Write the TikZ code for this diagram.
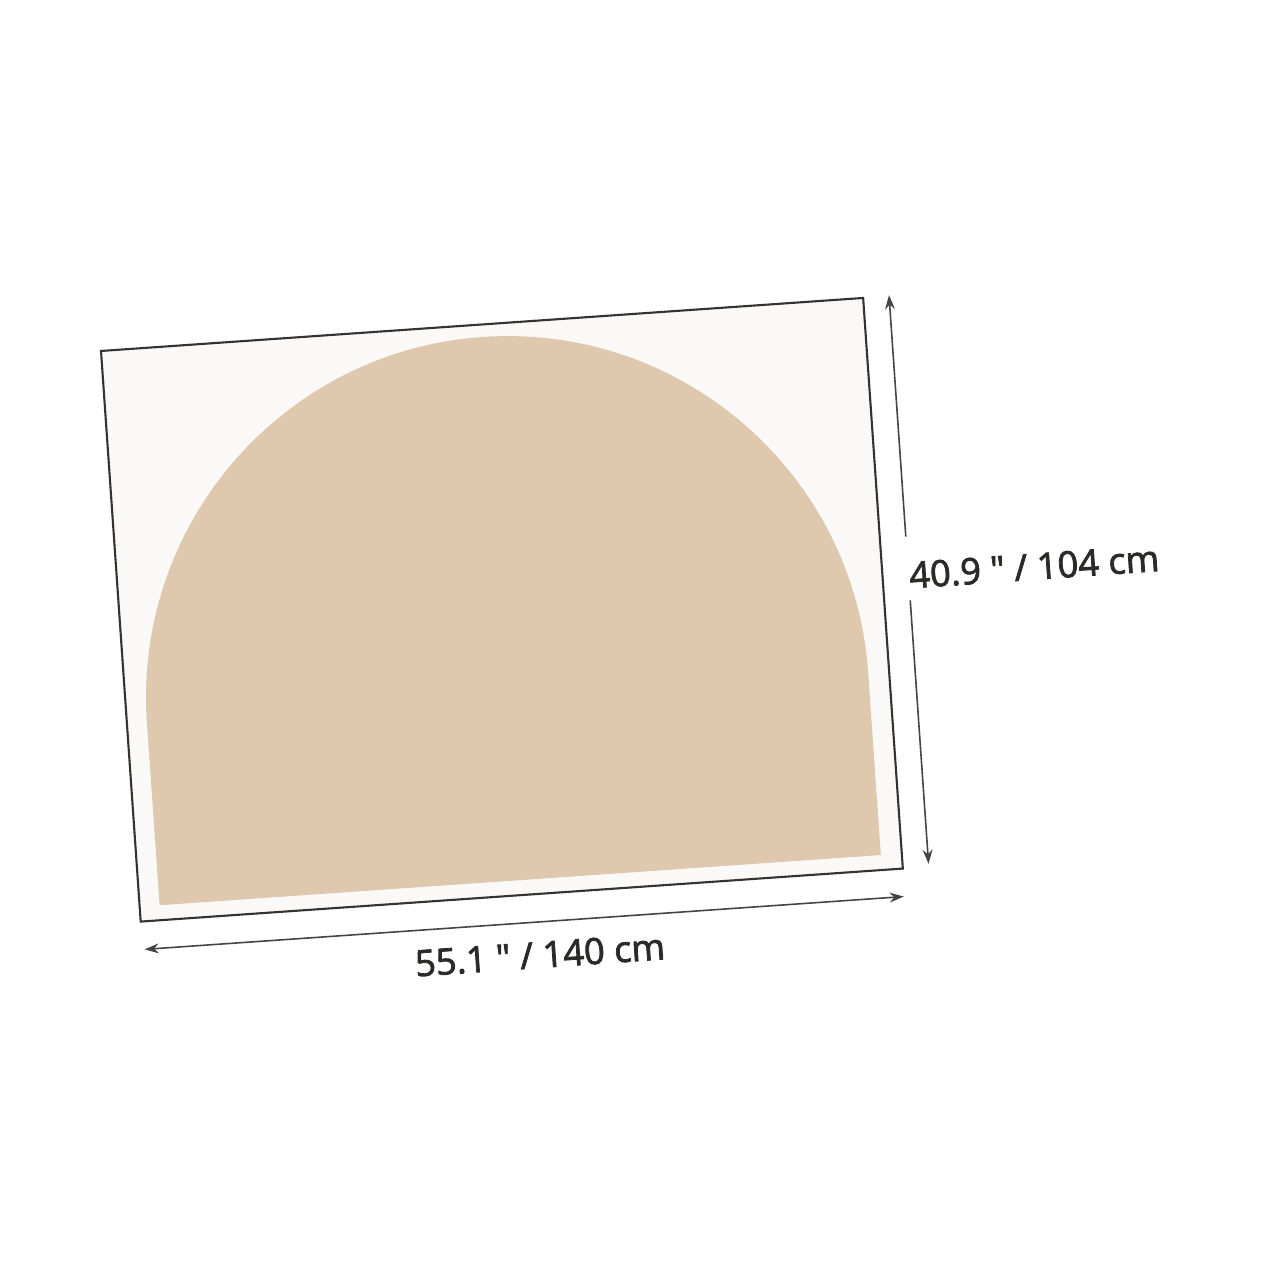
\documentclass[tikz,border=0pt]{standalone}
\usepackage{fontspec}
\newfontfamily\lblfont{Open Sans}[Ligatures=TeXOff,FakeBold=2.2]
\usetikzlibrary{arrows.meta}
\definecolor{archbeige}{HTML}{DEC9AE}
\definecolor{paper}{HTML}{FAF9F7}
\definecolor{framec}{HTML}{333333}
\definecolor{dimc}{HTML}{444444}
\definecolor{txtc}{HTML}{2A2A26}
\begin{document}
\begin{tikzpicture}[x=0.01cm,y=0.01cm,
  framebox/.style={draw=framec,line width=0.6pt,fill=paper},
  archfill/.style={fill=archbeige},
  dimline/.style={draw=dimc,line width=0.45pt},
  tipend/.style={-{Stealth[length=4pt,width=2.8pt]}},
  bothtips/.style={{Stealth[length=4pt,width=2.8pt]}-{Stealth[length=4pt,width=2.8pt]}},
  lbl/.style={font=\lblfont\fontsize{10.3}{12}\selectfont,text=txtc,inner sep=0pt,rotate=3.98}]
\useasboundingbox (0,0) rectangle (1283,1283);
\fill[white] (0,0) rectangle (1283,1283);
\begin{scope}[shift={(101,932)},rotate=3.98]
  % frame
  \coordinate (ftl) at (0,0);
  \coordinate (fbr) at (764,-572);
  \draw[framebox] (ftl) rectangle (fbr);
  % arch
  \coordinate (abl) at (20,-557);
  \coordinate (abr) at (743,-557);
  \fill[archfill] (abl) -- (20,-374) arc[start angle=180,end angle=0,radius=361.5] -- (abr) -- cycle;
  % vertical dimension
  \coordinate (vtop) at (790,1);
  \coordinate (vgapT) at (790,-241);
  \coordinate (vgapB) at (790,-305);
  \coordinate (vbot) at (790,-569);
  \draw[dimline,tipend] (vgapT) -- (vtop);
  \draw[dimline,tipend] (vgapB) -- (vbot);
  % horizontal dimension
  \coordinate (hl) at (2,-600);
  \coordinate (hr) at (763,-600);
  \draw[dimline,bothtips] (hl) -- (hr);
  % labels
  \node[lbl] (wlabel) at (396,-633) {55.1 " / 140 cm};
  \node[lbl] (hlabel) at (916,-280) {40.9 " / 104 cm};
\end{scope}
\end{tikzpicture}
\end{document}
